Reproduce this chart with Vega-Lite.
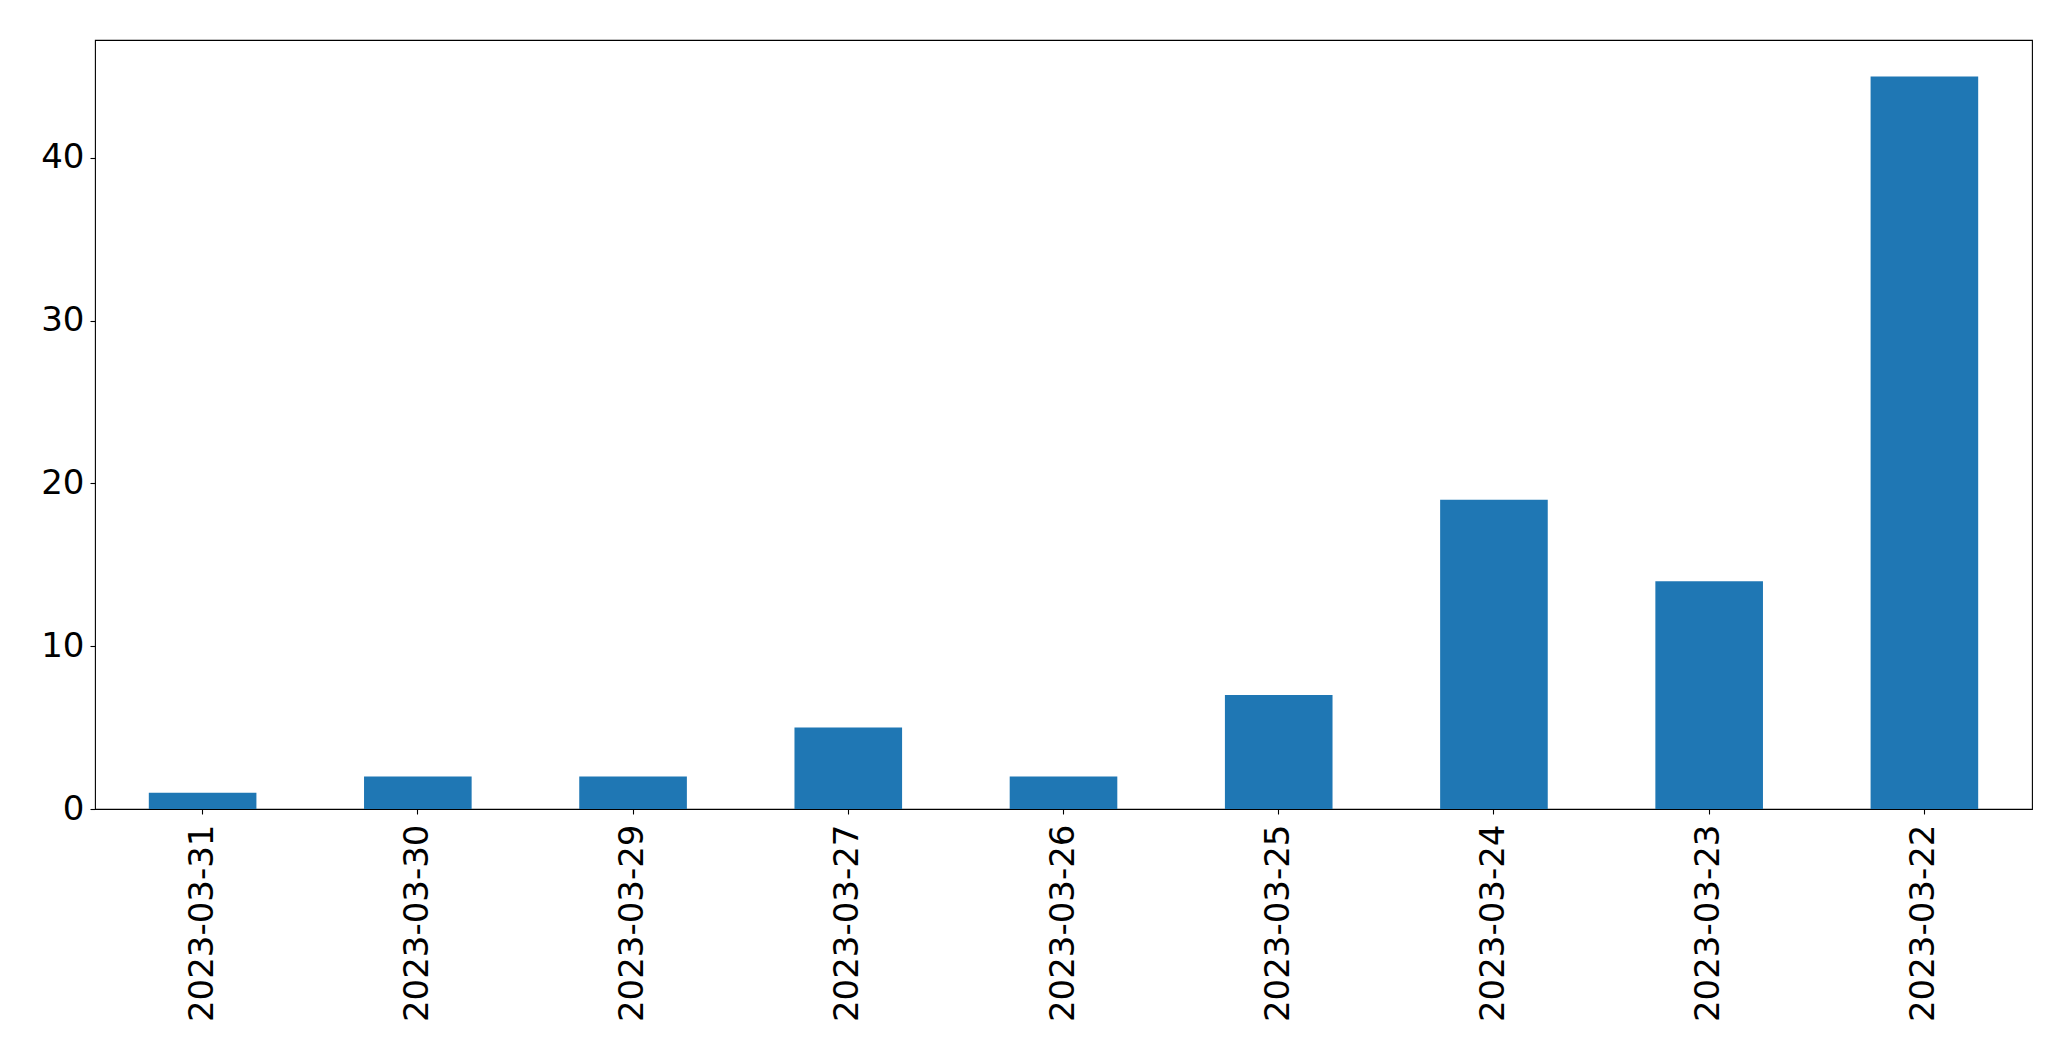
{
  "$schema": "https://vega.github.io/schema/vega-lite/v6.json",
  "autosize": {"type": "none"},
  "padding": {"left": 95, "top": 40, "right": 39, "bottom": 252},
  "width": 1937,
  "height": 769,
  "background": "white",
  "config": {
    "view": {"stroke": "black", "strokeWidth": 1.1},
    "axis": {
      "labelFont": "DejaVu Sans",
      "labelFontSize": 34,
      "labelColor": "black",
      "labelLimit": 0,
      "tickColor": "black",
      "tickSize": 5,
      "tickWidth": 1.1,
      "domain": false,
      "grid": false,
      "title": null
    }
  },
  "data": {
    "values": [
      {"date": "2023-03-31", "count": 1},
      {"date": "2023-03-30", "count": 2},
      {"date": "2023-03-29", "count": 2},
      {"date": "2023-03-27", "count": 5},
      {"date": "2023-03-26", "count": 2},
      {"date": "2023-03-25", "count": 7},
      {"date": "2023-03-24", "count": 19},
      {"date": "2023-03-23", "count": 14},
      {"date": "2023-03-22", "count": 45}
    ]
  },
  "mark": {"type": "bar", "color": "#1f77b4"},
  "encoding": {
    "x": {
      "field": "date",
      "type": "nominal",
      "sort": null,
      "scale": {"paddingInner": 0.5, "paddingOuter": 0.25},
      "axis": {"labelAngle": -90, "labelPadding": 10}
    },
    "y": {
      "field": "count",
      "type": "quantitative",
      "scale": {"domain": [0, 47.25], "nice": false, "zero": true},
      "axis": {"values": [0, 10, 20, 30, 40], "labelPadding": 6}
    }
  }
}
